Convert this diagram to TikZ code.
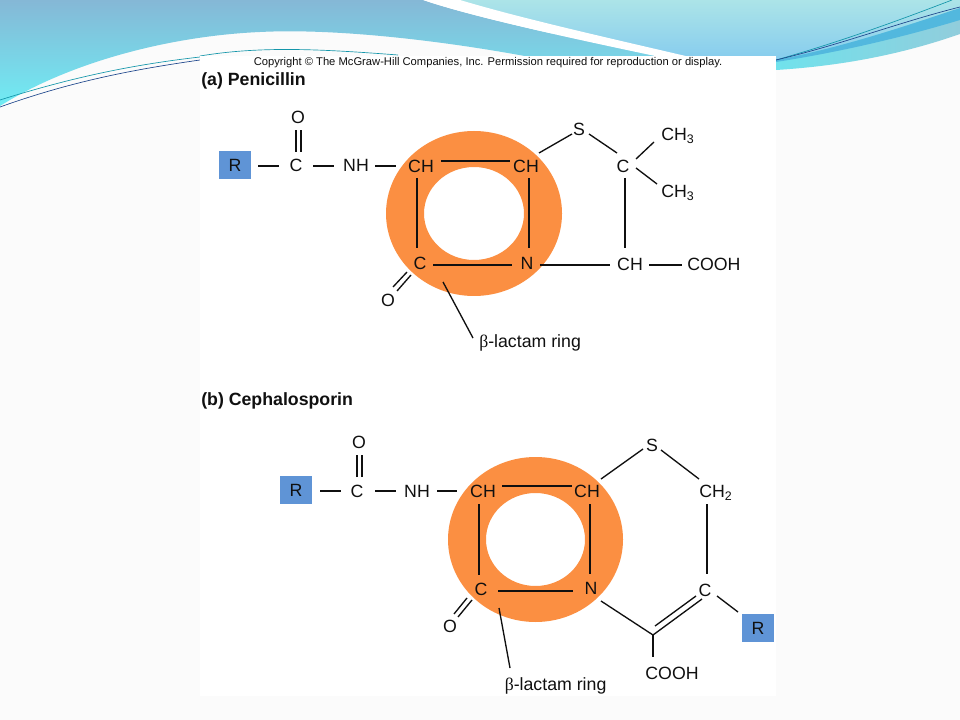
\documentclass[tikz,border=0pt]{standalone}
\usepackage{fontspec}
\usetikzlibrary{calc}
\setmainfont{Liberation Sans}
\newfontfamily\symf{Liberation Serif}
\definecolor{ringc}{HTML}{FB8F42}
\definecolor{rbox}{HTML}{5F94D6}
\definecolor{inkc}{HTML}{101010}
\definecolor{skyA}{RGB}{133,184,214}
\definecolor{skyB}{RGB}{112,236,244}
\definecolor{skyC}{RGB}{172,228,232}
\definecolor{skyD}{RGB}{134,204,238}
\definecolor{skyE}{RGB}{112,226,236}
\definecolor{skyG}{RGB}{145,205,220}
\definecolor{skyF}{RGB}{82,184,222}
\definecolor{lineT}{RGB}{20,150,170}
\definecolor{lineB}{RGB}{30,70,140}
\definecolor{slide}{HTML}{FBFBFB}
\tikzset{
 lbl/.style={font=\fontsize{13.3}{15}\selectfont,text=inkc,inner sep=0pt},
 head/.style={font=\fontsize{13.3}{15}\bfseries\selectfont,text=inkc,inner sep=0pt,anchor=west},
 rlab/.style={lbl,fill=rbox,minimum width=24pt,minimum height=20.5pt},
 bond/.style={draw=inkc,line width=1pt},
 ring/.style={fill=ringc,even odd rule},
 swoosh/.style={line width=0.5pt}
}
\begin{document}
\begin{tikzpicture}[x=0.75pt,y=-0.75pt]
\useasboundingbox (0,0) rectangle (960,720);
\fill[slide] (0,0) rectangle (960,720);
% top background
\shade[top color=skyC, bottom color=skyD]
 (440,0) -- (960,0) -- (960,8) .. controls (880,40) and (830,52) .. (776,60) -- (640,60) -- cycle;
\shade[top color=skyA, bottom color=skyB]
 (0,0) -- (423,0) .. controls (470,16) and (560,36) .. (660,57) -- (530,57) .. controls (450,42) and (340,28) .. (260,32) .. controls (170,36) and (70,62) .. (0,106) -- cycle;
\fill[white] (423,0) .. controls (470,16) and (560,36) .. (660,57) -- (690,57) .. controls (600,36) and (520,18) .. (460,0) -- cycle;
\shade[left color=skyE, right color=skyG] (776,60) .. controls (840,48) and (900,28) .. (960,8) -- (960,34) .. controls (900,55) and (840,66) .. (776,70) -- cycle;
\fill[skyF] (776,60) .. controls (840,48) and (900,28) .. (960,8) -- (960,20) .. controls (900,38) and (840,52) .. (776,62) -- cycle;
\draw[swoosh,lineT] (776,60) .. controls (840,42) and (900,20) .. (952,0);
\draw[swoosh,lineB] (776,60) .. controls (840,45) and (900,22) .. (960,7);
\draw[swoosh,lineT] (0,100) .. controls (70,78) and (130,65) .. (200,57);
\draw[swoosh,lineB] (0,107) .. controls (70,82) and (130,70) .. (200,60);
\draw[swoosh,lineT] (200,56) .. controls (260,46) and (320,49) .. (398,55);
% panel
\fill[white] (200,56) rectangle (776,696);
\node[lbl,font=\fontsize{8.4}{10}\selectfont,anchor=west] (copy) at (253.5,62.5) {Copyright © The McGraw-Hill Companies, Inc. Permission required for reproduction or display.};
\node[head] (ha) at (201,81) {(a) Penicillin};
\node[head] (hb) at (201,401) {(b) Cephalosporin};
% rings
\path[ring] (474,213.5) ellipse [x radius=88,y radius=82.5] (474,213.5) ellipse [x radius=50,y radius=46.5];
\path[ring] (535.5,539.5) ellipse [x radius=87.5,y radius=82.5] (535.5,539.5) ellipse [x radius=49.5,y radius=46.5];
% Penicillin
\node[rlab] (r1) at (235,165) {R};
\node[lbl] (c1) at (296,165.5) {C};
\node[lbl] (o1) at (298,117) {O};
\node[lbl] (nh1) at (356,165.5) {NH};
\node[lbl] (ch1) at (421,166) {CH};
\node[lbl] (ch2) at (526,166) {CH};
\node[lbl] (c2) at (420,263) {C};
\node[lbl] (n1) at (527,263) {N};
\node[lbl] (o2) at (388,300) {O};
\node[lbl] (s1) at (579,129) {S};
\node[lbl] (c3) at (623,166) {C};
\node[lbl,anchor=west] (me1) at (661,136) {CH\textsubscript{3}};
\node[lbl,anchor=west] (me2) at (661,193) {CH\textsubscript{3}};
\node[lbl] (ch3) at (630,264) {CH};
\node[lbl,anchor=west] (cooh1) at (687,264) {COOH};
\node[lbl,anchor=west] (bl1) at (479,343) {{\symf β}-lactam ring};
\coordinate (p1) at (443,282);
\draw[bond] (p1) -- ($(bl1.west)+(-6,-5)$);
\draw[bond] ($(r1)+(23,1)$) -- ($(c1)+(-17,.5)$);
\draw[bond] ($(c1)+(17,.5)$) -- ($(nh1)+(-22,.5)$);
\draw[bond] ($(nh1)+(19,.5)$) -- ($(ch1)+(-25,0)$);
\draw[bond] ($(c1)+(0,-13.5)$) -- ($(o1)+(-2,13)$);
\draw[bond] ($(c1)+(5,-13.5)$) -- ($(o1)+(3,13)$);
\draw[bond] ($(ch1)+(20,-5)$) -- ($(ch2)+(-16,-5)$);
\draw[bond] ($(ch1)+(-4,12)$) -- ($(c2)+(-3,-15)$);
\draw[bond] ($(ch2)+(3,12)$) -- ($(n1)+(2,-15)$);
\draw[bond] ($(c2)+(13,2)$) -- ($(n1)+(-15,2)$);
\draw[bond] ($(c2)+(-13,9)$) -- ($(o2)+(5,-13)$);
\draw[bond] ($(c2)+(-9,12)$) -- ($(o2)+(9,-9)$);
\draw[bond] ($(ch2)+(13,-13)$) -- ($(s1)+(-7,5)$);
\draw[bond] ($(s1)+(10,5)$) -- ($(c3)+(-6,-13)$);
\draw[bond] ($(c3)+(13,-7)$) -- ($(me1.west)+(-7,6)$);
\draw[bond] ($(c3)+(13,2)$) -- ($(me2.west)+(-4,-9)$);
\draw[bond] ($(c3)+(2,12)$) -- ($(ch3)+(-5,-16)$);
\draw[bond] ($(n1)+(13,2)$) -- ($(ch3)+(-20,1)$);
\draw[bond] ($(ch3)+(19,1)$) -- ($(cooh1.west)+(-5,1)$);
% Cephalosporin
\node[rlab] (r2) at (296,490) {R};
\node[lbl] (c4) at (357,491) {C};
\node[lbl] (o3) at (359,442) {O};
\node[lbl] (nh2) at (417,491) {NH};
\node[lbl] (ch4) at (483,491) {CH};
\node[lbl] (ch5) at (587,491) {CH};
\node[lbl] (c5) at (481,589) {C};
\node[lbl] (n2) at (591,588) {N};
\node[lbl] (o4) at (450,626) {O};
\node[lbl] (s2) at (652,445) {S};
\node[lbl,anchor=west] (ch2b) at (699,493) {CH\textsubscript{2}};
\node[lbl] (c6) at (705,590) {C};
\node[rlab] (r3) at (758,628) {R};
\node[lbl] (cooh2) at (672,673) {COOH};
\node[lbl,anchor=west] (bl2) at (504.5,686) {{\symf β}-lactam ring};
\coordinate (p2) at (499,608);
\coordinate (j) at (653,635);
\draw[bond] (p2) -- ($(bl2.west)+(5.5,-18)$);
\draw[bond] ($(r2)+(24,1)$) -- ($(c4)+(-16,0)$);
\draw[bond] ($(c4)+(18,0)$) -- ($(nh2)+(-21,0)$);
\draw[bond] ($(nh2)+(20,0)$) -- ($(ch4)+(-26,0)$);
\draw[bond] ($(c4)+(0,-14)$) -- ($(o3)+(-2,13)$);
\draw[bond] ($(c4)+(5,-14)$) -- ($(o3)+(3,13)$);
\draw[bond] ($(ch4)+(19,-5)$) -- ($(ch5)+(-15,-5)$);
\draw[bond] ($(ch4)+(-4,13)$) -- ($(c5)+(-2,-14)$);
\draw[bond] ($(ch5)+(3,13)$) -- ($(n2)+(-1,-14)$);
\draw[bond] ($(c5)+(17,2)$) -- ($(n2)+(-18,3)$);
\draw[bond] ($(c5)+(-14,9)$) -- ($(o4)+(4,-12)$);
\draw[bond] ($(c5)+(-9,11)$) -- ($(o4)+(8,-9)$);
\draw[bond] ($(ch5)+(14,-12)$) -- ($(s2)+(-9,4)$);
\draw[bond] ($(s2)+(9,5)$) -- ($(ch2b.west)+(0,-14)$);
\draw[bond] ($(ch2b.west)+(8,11)$) -- ($(c6)+(2,-16)$);
\draw[bond] ($(n2)+(10,13)$) -- (j);
\draw[bond] (j) -- ($(c6)+(-3,9)$);
\draw[bond] ($(j)+(2,-9)$) -- ($(c6)+(-9,6)$);
\draw[bond] (j) -- ($(cooh2)+(-19,-16)$);
\draw[bond] ($(c6)+(12,6)$) -- ($(r3)+(-20,-16)$);
\end{tikzpicture}
\end{document}
